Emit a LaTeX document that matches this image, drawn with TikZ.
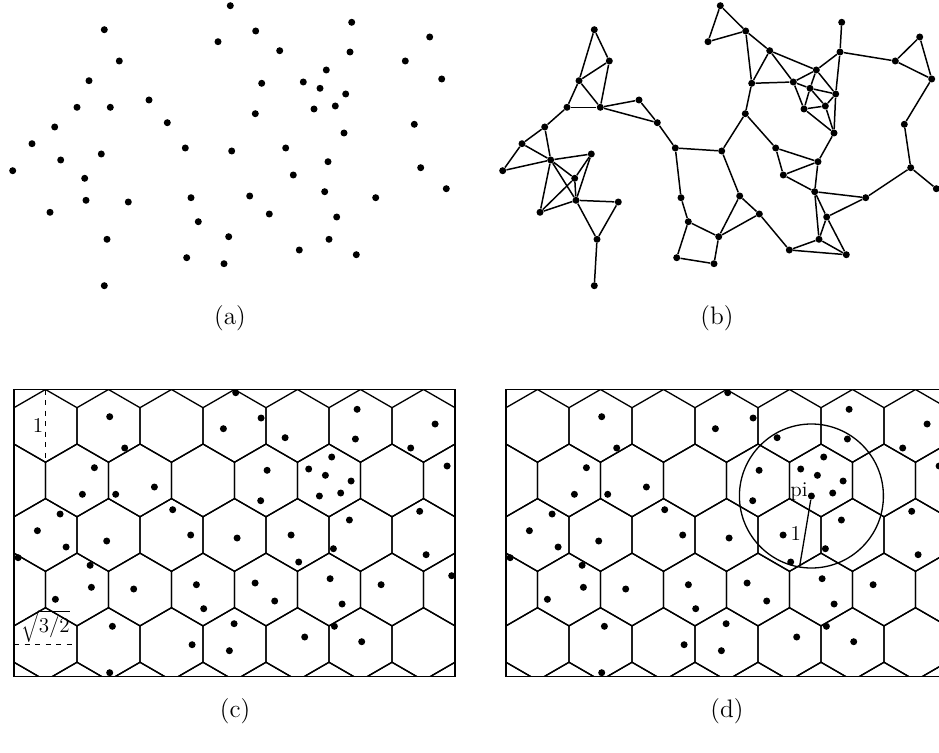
\documentclass[tikz,border=0pt]{standalone}

\tikzset{
  dot/.style={circle, fill=black, inner sep=0pt, minimum size=0.14cm},
  link/.style={line width=0.85pt},
  hexline/.style={line width=0.75pt},
  frame/.style={line width=1.1pt},
  guide/.style={dashed, line width=0.6pt},
  caption/.style={font=\Large},
}

% node positions (one unit = one pixel of the figure)
\def\pts{1/230.3/5.7, 2/104.3/29.7, 3/255.7/31, 4/351.7/22.3, 5/218/41.7,
 6/429.7/37, 7/119.3/61, 8/279.7/50.7, 9/350/52, 10/405.3/61,
 11/89/80.7, 12/326.3/70, 13/261.7/83.3, 14/303.3/82, 15/320/88.3,
 16/441.7/79, 17/345.7/94, 18/149/100, 19/77/107.3, 20/110.3/107.3,
 21/314/109, 22/335.3/106, 23/255.3/113.7, 24/167.3/122.7, 25/414.3/124.3,
 26/54.7/127, 27/344/133, 28/32/143.7, 29/185.3/148, 30/231.7/151,
 31/285.7/148, 32/60.7/160, 33/101.3/154, 34/328/161.7, 35/12.7/170.7,
 36/84.7/178.3, 37/293.3/175, 38/420.7/167.7, 39/324.7/191.7, 40/446.3/188.7,
 41/86/200.3, 42/128.3/202, 43/191/197.7, 44/249.7/196, 45/375.7/197.7,
 46/50/212.3, 47/269.3/214, 48/336.7/217, 49/198.3/221.7, 50/107/239.3,
 51/228.7/236.7, 52/329/239.3, 53/299.3/250, 54/186.7/257.7, 55/224/263.7,
 56/356.3/254.7, 57/104.3/285.7}

% communication links
\def\links{2/7, 2/11, 7/11, 7/20, 11/19, 11/20, 19/20, 18/20, 20/24, 18/24,
 24/29, 19/26, 26/28, 26/32, 28/32, 28/35, 35/32, 32/33, 32/36, 32/41,
 32/46, 33/36, 33/41, 36/41, 36/46, 41/46, 41/42, 41/50, 42/50, 50/57,
 29/30, 29/43, 43/49, 49/51, 49/54, 54/55, 51/55, 44/51, 47/51, 44/47,
 30/44, 23/30, 13/23, 23/31, 47/53, 1/5, 3/5, 1/3, 3/8, 3/13,
 8/13, 13/14, 8/14, 8/12, 12/14, 14/15, 14/21, 12/15, 12/17, 9/12,
 4/9, 9/17, 17/27, 9/10, 6/10, 6/16, 10/16, 16/25, 25/38, 38/40,
 38/45, 15/17, 15/21, 15/22, 21/22, 17/22, 21/27, 22/27, 27/34, 31/34,
 31/37, 34/37, 37/39, 34/39, 39/45, 45/48, 39/48, 39/52, 48/52, 48/56,
 52/56, 52/53, 53/56}

% hexagonal cells of side 1/2
\newcommand{\hexgrid}{%
  \foreach \r in {0,...,5}
    \foreach \c in {-1,...,7}{
      \pgfmathsetmacro{\hx}{31.5+63*\c-31.5*mod(\r,2)}
      \pgfmathsetmacro{\hy}{36.37+54.55*\r}
      \draw[hexline] (\hx,\hy) +(30:36.37) -- +(90:36.37) -- +(150:36.37)
        -- +(210:36.37) -- +(270:36.37) -- +(330:36.37) -- cycle;
    }%
}

\begin{document}
\begin{tikzpicture}[x=0.02cm, y=-0.02cm]
  \useasboundingbox (0,0) rectangle (939,753);

  % (a) deployed nodes
  \foreach \i/\x/\y in \pts
    \node[dot] (a\i) at (\x,\y) {};
  \node[caption] (capa) at (230,318) {(a)};

  % (b) unit disk graph
  \begin{scope}[shift={(490,0)}]
    \foreach \i/\x/\y in \pts
      \node[dot] (b\i) at (\x,\y) {};
    \foreach \u/\v in \links
      \draw[link] (b\u) -- (b\v);
  \end{scope}
  \node[caption] (capb) at (717,318) {(b)};

  % (c) hexagonal partition
  \begin{scope}[shift={(14,389.5)}]
    \begin{scope}
      \clip (0,0) rectangle (441,287);
      \hexgrid
    \end{scope}
    \draw[frame] (0,0) rectangle (441,287);
    \foreach \i/\x/\y in \pts
      \node[dot] (c\i) at (\x-8.6,\y-2.5) {};
    \coordinate (htop) at (31.5,0);
    \coordinate (hbot) at (31.5,72.74);
    \draw[guide] (htop) -- (hbot)
      node[midway, left=0pt, inner sep=1pt, font=\large] {1};
    \coordinate (wlft) at (0,254.57);
    \coordinate (wrgt) at (63,254.57);
    \draw[guide] (wlft) -- (wrgt)
      node[midway, above=0pt, inner sep=0.5pt, font=\large] {$\sqrt{3/2}$};
  \end{scope}
  \node[caption] (capc) at (235,711) {(c)};

  % (d) neighbourhood of p_i
  \begin{scope}[shift={(506,389.5)}]
    \begin{scope}
      \clip (0,0) rectangle (441,287);
      \hexgrid
    \end{scope}
    \draw[frame] (0,0) rectangle (441,287);
    \foreach \i/\x/\y in \pts
      \node[dot] (d\i) at (\x-8.6,\y-2.5) {};
  \end{scope}
  \draw[hexline] (d21) circle[radius=72];
  \path (d21) ++(99.5:72) coordinate (rim);
  \draw[hexline] (d21) -- (rim)
    node[midway, left=0pt, inner sep=2pt, font=\large] {1};
  \node[anchor=base east, inner sep=0pt, font=\large] (pilabel)
    at ([xshift=-0.07cm]d21.center) {pi};
  \node[caption] (capd) at (727,711) {(d)};
\end{tikzpicture}
\end{document}
